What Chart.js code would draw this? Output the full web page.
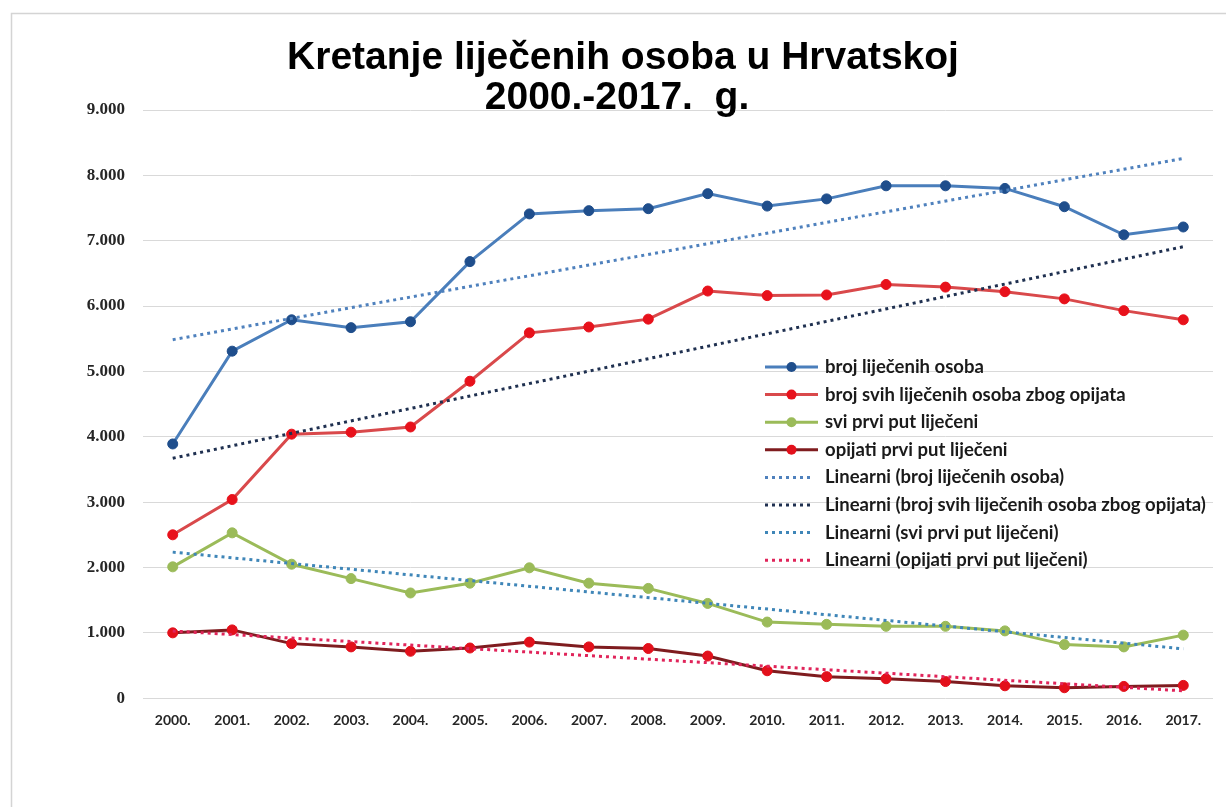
<!DOCTYPE html>
<html>
<head>
<meta charset="utf-8">
<title>Kretanje liječenih osoba u Hrvatskoj</title>
<script src="https://cdn.jsdelivr.net/npm/chart.js@4.4.1/dist/chart.umd.min.js"></script>
<style>
    html, body { margin: 0; padding: 0; background: #fff; }
    #wrap { width: 1226px; height: 807px; }
</style>
</head>
<body>
<div id="wrap"><canvas id="lijeceniCanvas" width="1226" height="807"></canvas></div>
<script>
// godine
const godine = ['2000.', '2001.', '2002.', '2003.', '2004.', '2005.', '2006.', '2007.', '2008.',
    '2009.', '2010.', '2011.', '2012.', '2013.', '2014.', '2015.', '2016.', '2017.'];

// serije (ocitano sa slike)
const brojLijecenih = [3890, 5310, 5790, 5670, 5760, 6680, 7410, 7460, 7490, 7720, 7530, 7640, 7840, 7840, 7800, 7520, 7090, 7210];
const zbogOpijata   = [2500, 3040, 4040, 4070, 4150, 4850, 5590, 5680, 5800, 6230, 6160, 6170, 6330, 6290, 6220, 6110, 5930, 5790];
const sviPrviPut    = [2010, 2530, 2050, 1830, 1610, 1760, 1995, 1760, 1680, 1450, 1165, 1130, 1100, 1100, 1030, 820, 785, 965];
const opijatiPrviPut = [1000, 1045, 835, 785, 718, 768, 858, 785, 760, 645, 420, 330, 298, 255, 190, 160, 180, 196];

// linearni trendovi: vrijednost na pocetku (2000.) i na kraju (2017.)
const trendPocetak = [5486, 3672, 2235, 1028];
const trendKraj    = [8258, 6908, 755, 113];

const nazivi = ['broj liječenih osoba', 'broj svih liječenih osoba zbog opijata',
    'svi prvi put liječeni', 'opijati prvi put liječeni'];
const tickovi = [0, 1000, 2000, 3000, 4000, 5000, 6000, 7000, 8000, 9000];

const boje = [
    { linija: '#4a7ebb', tocka: '#1f4e8c', trend: '#4f81bd' },
    { linija: '#d9494b', tocka: '#e8111b', trend: '#1f3050' },
    { linija: '#9bbb59', tocka: '#9bbb59', trend: '#3f86b8' },
    { linija: '#7f1c1f', tocka: '#e3101b', trend: '#e0245a' }
];

function tocka(n) {
    return String(n).replace(/\B(?=(\d{3})+(?!\d))/g, '.');
}

var serije = [brojLijecenih, zbogOpijata, sviPrviPut, opijatiPrviPut];
var datasets = [];

for (let i = 0; i < serije.length; i++) {
    datasets.push({
        label: nazivi[i],
        data: serije[i],
        borderColor: boje[i].linija,
        backgroundColor: boje[i].tocka,
        pointBackgroundColor: boje[i].tocka,
        pointBorderColor: boje[i].tocka,
        pointRadius: 5,
        pointBorderWidth: 1,
        borderWidth: 3,
        tension: 0,
        order: 1
    });
}
for (let i = 0; i < serije.length; i++) {
    datasets.push({
        label: 'Linearni (' + nazivi[i] + ')',
        data: [
            { x: godine[0], y: trendPocetak[i] },
            { x: godine[godine.length - 1], y: trendKraj[i] }
        ],
        borderColor: boje[i].trend,
        borderWidth: 3,
        borderDash: [3, 4],
        pointRadius: 0,
        fill: false,
        order: 0
    });
}

// bijela pozadina i rub slike
const okvir = {
    id: 'okvir',
    beforeDraw(chart) {
        const ctx = chart.ctx;
        ctx.save();
        ctx.fillStyle = '#ffffff';
        ctx.fillRect(0, 0, chart.width, chart.height);
        ctx.strokeStyle = '#d4d4d4';
        ctx.lineWidth = 1.5;
        ctx.beginPath();
        ctx.moveTo(11.5, chart.height);
        ctx.lineTo(11.5, 13.5);
        ctx.lineTo(chart.width, 13.5);
        ctx.stroke();
        ctx.restore();
    }
};

// naslov u dva reda
const naslov = {
    id: 'naslov',
    afterDraw(chart) {
        const ctx = chart.ctx;
        ctx.save();
        ctx.fillStyle = '#000000';
        ctx.font = 'bold 39px "Liberation Sans", Arial, sans-serif';
        ctx.textAlign = 'center';
        ctx.textBaseline = 'alphabetic';
        ctx.fillText('Kretanje liječenih osoba u Hrvatskoj', 623, 69);
        ctx.fillText('2000.-2017.  g.', 617, 109);
        ctx.restore();
    }
};

// legenda unutar podrucja grafa
const legenda = {
    id: 'legenda',
    afterDraw(chart) {
        const ctx = chart.ctx;
        const x0 = 765, x1 = 818, tx = 825;
        let y = 367;
        ctx.save();
        ctx.font = 'bold 18.5px Lato, "Open Sans", sans-serif';
        ctx.textBaseline = 'middle';
        ctx.textAlign = 'left';
        chart.data.datasets.forEach((ds) => {
            ctx.strokeStyle = ds.borderColor;
            ctx.lineWidth = 3;
            if (ds.borderDash) {
                ctx.setLineDash(ds.borderDash);
                ctx.beginPath();
                ctx.moveTo(x0, y);
                ctx.lineTo(x1 - 5, y);
                ctx.stroke();
                ctx.setLineDash([]);
            } else {
                ctx.beginPath();
                ctx.moveTo(x0, y);
                ctx.lineTo(x1, y);
                ctx.stroke();
                ctx.fillStyle = ds.pointBackgroundColor;
                ctx.beginPath();
                ctx.arc((x0 + x1) / 2, y, 5, 0, Math.PI * 2);
                ctx.fill();
            }
            ctx.fillStyle = '#1a1a1a';
            ctx.fillText(ds.label, tx, y);
            y += 27.6;
        });
        ctx.restore();
    }
};

new Chart(document.getElementById('lijeceniCanvas'), {
    type: 'line',
    data: {
        labels: godine,
        datasets: datasets
    },
    options: {
        responsive: false,
        animation: false,
        devicePixelRatio: 1,
        layout: { padding: { top: 110, right: 13, bottom: 72, left: 0 } },
        plugins: {
            legend: { display: false },
            title: { display: false },
            tooltip: { enabled: false }
        },
        scales: {
            x: {
                offset: true,
                grid: { display: false },
                border: { display: false },
                ticks: {
                    color: '#262626',
                    padding: 6,
                    maxRotation: 0,
                    autoSkip: false,
                    font: { family: 'Lato', weight: 'bold', size: 14 }
                }
            },
            y: {
                min: 0,
                max: 9000,
                afterBuildTicks: (s) => { s.ticks = tickovi.map(v => ({ value: v })); },
                afterFit: (s) => { s.width = 143; },
                grid: { color: '#d9d9d9', lineWidth: 1, drawTicks: false },
                border: { display: false },
                ticks: {
                    color: '#262626',
                    padding: 18,
                    font: { family: '"Liberation Serif"', weight: 'bold', size: 17 },
                    callback: (v) => tocka(v)
                }
            }
        }
    },
    plugins: [okvir, naslov, legenda]
});
</script>
</body>
</html>
